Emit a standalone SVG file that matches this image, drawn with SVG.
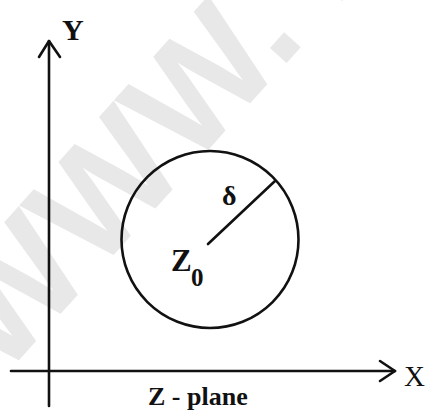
<svg xmlns="http://www.w3.org/2000/svg" width="427" height="413" viewBox="0 0 427 413">
<style>
.ln{stroke:#111;stroke-width:2.6;fill:none;stroke-linecap:round;stroke-linejoin:round}
.lb{font-family:"Liberation Serif","Times New Roman",serif;fill:#111}
.b{font-weight:bold}
.wm{font-family:"Liberation Sans",Arial,sans-serif;font-weight:bold;fill:#e8e8e8}
</style>
<rect width="427" height="413" fill="#fff"/>
<text class="wm" font-size="150" transform="translate(1,380) rotate(-48)">WWW. .</text>
<g id="connectors">
<path class="ln" d="M49,406 V41"/>
<path class="ln" d="M39,57 L49,41 L60,57"/>
<path class="ln" d="M11,371 H395"/>
<path class="ln" d="M380,361 L395,371 L380,381"/>
<path class="ln" d="M208,244 L275,181"/>
</g>
<g id="circle">
<circle class="ln" cx="210" cy="239.5" r="88.5"/>
</g>
<g id="labels">
<text class="lb b" x="62" y="40" font-size="30">Y</text>
<text class="lb" x="404" y="386" font-size="29">X</text>
<text class="lb b" x="222" y="205" font-size="28">δ</text>
<text class="lb b" x="171" y="271" font-size="31">Z</text>
<text class="lb b" x="191" y="286" font-size="25">0</text>
<text class="lb b" x="148" y="405" font-size="26">Z - plane</text>
</g>
</svg>
